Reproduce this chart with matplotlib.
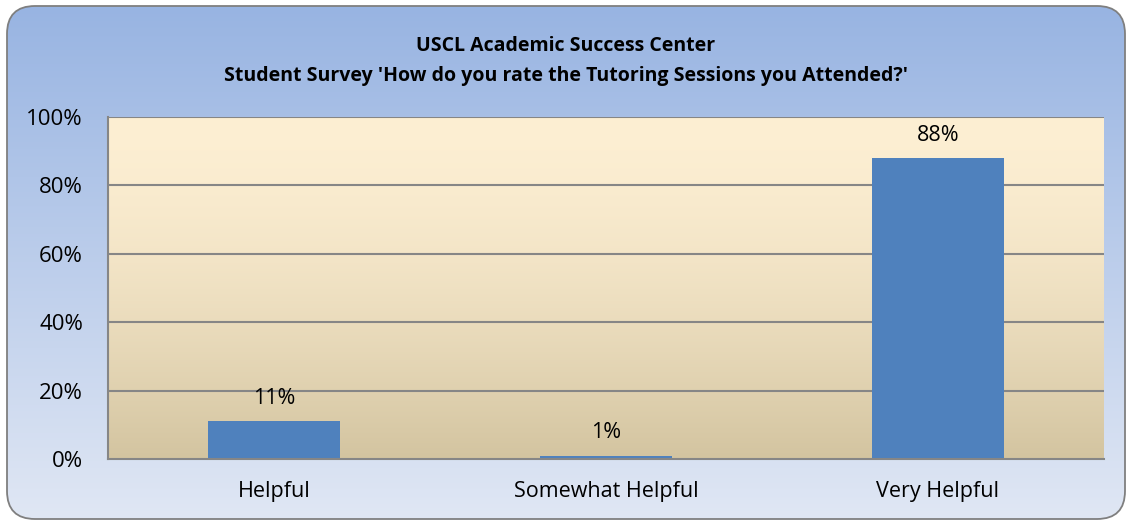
import matplotlib
matplotlib.use("Agg")
import matplotlib.pyplot as plt
from matplotlib.patches import FancyBboxPatch
import numpy as np

categories = ["Helpful", "Somewhat Helpful", "Very Helpful"]
values = [11, 1, 88]
labels = ["11%", "1%", "88%"]
yticks = [0, 20, 40, 60, 80, 100]

W, H = 1132, 524
fig = plt.figure(figsize=(W / 100, H / 100), dpi=100)
fig.patch.set_facecolor("white")

# background with rounded frame and blue gradient
bg = fig.add_axes([0, 0, 1, 1])
bg.set_xlim(0, W)
bg.set_ylim(0, H)
bg.axis("off")
frame = FancyBboxPatch((7, 5), W - 14, H - 11, boxstyle="round,pad=0,rounding_size=28",
                       facecolor="none", edgecolor="#7f7f7f", linewidth=1.3, zorder=3)
bg.add_patch(frame)
top = np.array([0x98, 0xB4, 0xE2]) / 255
bot = np.array([0xE0, 0xE7, 0xF4]) / 255
t = np.linspace(0, 1, 256)[:, None]
grad = (top * (1 - t) + bot * t)[:, None, :]
im = bg.imshow(grad, extent=[7, W - 7, 5, H - 6], aspect="auto", origin="upper", zorder=1)
im.set_clip_path(frame)

# plot area
l, r, tp, bt = 108, 1104, 117, 459
ax = fig.add_axes([l / W, 1 - bt / H, (r - l) / W, (bt - tp) / H])
ax.set_xlim(-0.5, 2.5)
ax.set_ylim(0, 100)
ptop = np.array([0xFD, 0xEF, 0xD3]) / 255
pbot = np.array([0xD3, 0xC4, 0xA0]) / 255
pgrad = (ptop * (1 - t ** 1.6) + pbot * t ** 1.6)[:, None, :]
ax.imshow(pgrad, extent=[-0.5, 2.5, 0, 100], aspect="auto", origin="upper", zorder=0)

for y in yticks[1:]:
    ax.axhline(y, color="#868686", linewidth=1.5, zorder=1)

x = np.arange(len(categories))
ax.bar(x, values, width=0.4, color="#4F81BD", zorder=2)
for xi, v, lab in zip(x, values, labels):
    ax.annotate(lab, (xi, v), xytext=(0, 9), textcoords="offset points",
                ha="center", va="bottom", fontsize=15.5, family="Open Sans")

ax.set_yticks(yticks)
ax.set_yticklabels([f"{v}%" for v in yticks], fontsize=16, family="Open Sans")
ax.set_xticks(x)
ax.set_xticklabels(categories, fontsize=15.5, family="Open Sans")
ax.tick_params(length=0)
ax.tick_params(axis="x", pad=16)
ax.tick_params(axis="y", pad=18)
for s in ["top", "right"]:
    ax.spines[s].set_visible(False)
for s in ["left", "bottom"]:
    ax.spines[s].set_color("#868686")
    ax.spines[s].set_linewidth(1.5)

fig.text(0.5, 1 - 46 / H, "USCL Academic Success Center", ha="center", va="center",
         fontsize=14, fontweight="bold", family="Open Sans")
fig.text(0.5, 1 - 76 / H, "Student Survey 'How do you rate the Tutoring Sessions you Attended?'",
         ha="center", va="center", fontsize=14, fontweight="bold", family="Open Sans")

fig.savefig("out.png", dpi=100)
